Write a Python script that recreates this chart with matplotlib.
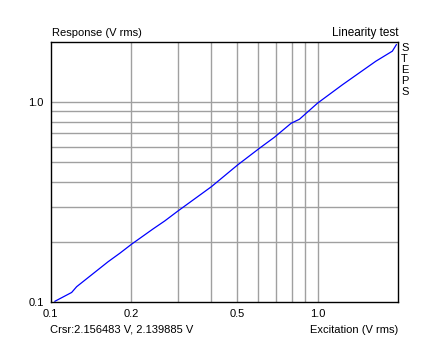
import matplotlib
matplotlib.use("Agg")
import matplotlib.pyplot as plt

# measured response vs. excitation (V rms)
excitation = [0.1039, 0.120, 0.1253, 0.1644, 0.1817, 0.201, 0.242, 0.2677, 0.30,
              0.40, 0.502, 0.606, 0.689, 0.796, 0.855, 1.0, 1.24, 1.652, 1.905, 1.972]
response = [0.1012, 0.112, 0.1197, 0.1596, 0.1758, 0.195, 0.2326, 0.255, 0.286,
            0.378, 0.486, 0.589, 0.668, 0.785, 0.822, 0.99, 1.224, 1.603, 1.80, 1.94]

grid_vals = [0.2, 0.3, 0.4, 0.5, 0.6, 0.7, 0.8, 0.9, 1.0]
xtick_vals = [0.1, 0.2, 0.5, 1.0]
xtick_labels = ["0.1", "0.2", "0.5", "1.0"]
ytick_vals = [0.1, 1.0]
ytick_labels = ["0.1", "1.0"]

plt.rcParams["font.family"] = ["Liberation Sans", "DejaVu Sans"]
plt.rcParams["font.size"] = 8

W, H = 448, 344
fig = plt.figure(figsize=(W / 100, H / 100), dpi=100)
ax = fig.add_axes([50.5 / W, (H - 302.3) / H, (398 - 50.5) / W, (302.3 - 42) / H])

for v in grid_vals:
    ax.axvline(v, color="#a0a0a0", lw=1, zorder=1)
    ax.axhline(v, color="#a0a0a0", lw=1, zorder=1)

ax.plot(excitation, response, color="#0000ff", lw=0.9, zorder=2)

ax.set_xscale("log")
ax.set_yscale("log")
ax.set_xlim(0.1, 2.0)
ax.set_ylim(0.1, 2.0)
ax.minorticks_off()
ax.set_xticks(xtick_vals)
ax.set_xticklabels(xtick_labels)
ax.set_yticks(ytick_vals)
ax.set_yticklabels(ytick_labels)
ax.tick_params(length=0, pad=5, labelsize=8)
for s in ax.spines.values():
    s.set_linewidth(1)
    s.set_color("black")

fig.text(52 / W, 1 - 33 / H, "Response (V rms)", ha="left", va="center")
fig.text(398 / W, 1 - 33 / H, "Linearity test", ha="right", va="center", fontsize=8.5)
fig.text(50 / W, 1 - 330 / H, "Crsr:2.156483 V, 2.139885 V", ha="left", va="center")
fig.text(398 / W, 1 - 330 / H, "Excitation (V rms)", ha="right", va="center")
fig.text(401 / W, 1 - 43 / H, "S\nT\nE\nP\nS", ha="left", va="top", linespacing=1.12)

fig.savefig("out.png", dpi=100)
